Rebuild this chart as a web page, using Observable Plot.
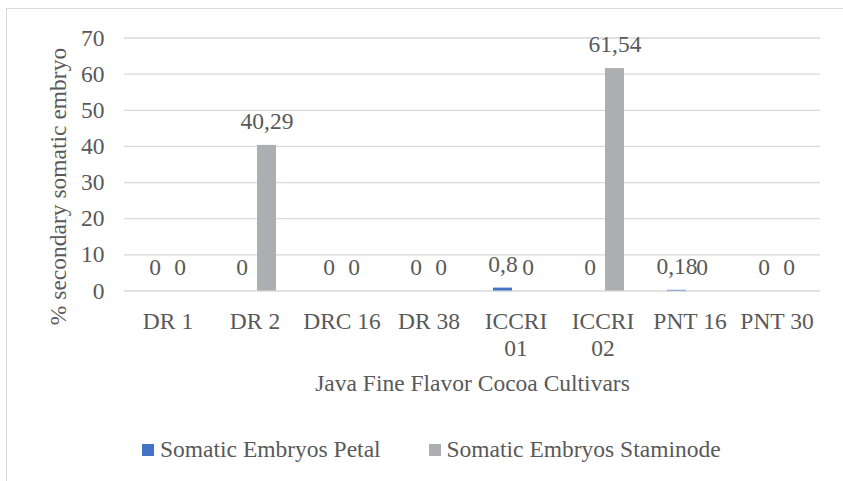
<!DOCTYPE html>
<html>
<head>
<meta charset="utf-8">
<script src="https://cdn.jsdelivr.net/npm/d3@7"></script>
<script src="https://cdn.jsdelivr.net/npm/@observablehq/plot@0.6"></script>
<style>
  body { margin: 0; background: #fff; }
  #wrap { position: relative; width: 843px; height: 481px; overflow: hidden;
          font-family: "Liberation Serif", "DejaVu Serif", serif; color: #595959; }
  #frame { position: absolute; left: 6px; top: 8px; width: 900px; height: 500px;
           border-left: 1px solid #d9d9d9; border-top: 1px solid #d9d9d9; }
  #chart { position: absolute; left: 0; top: 0; }
  #legend { position: absolute; left: 0; top: 435px; width: 843px; height: 28px; font-size: 23.5px; line-height: 28px; }
  .item { position: absolute; top: 0; display: flex; align-items: center; height: 28px; white-space: nowrap; }
  .sw { width: 12px; height: 12px; margin-right: 6px; margin-top: 1px; }
</style>
</head>
<body>
<div id="wrap">
  <div id="frame"></div>
  <div id="chart"></div>
  <div id="legend"></div>
</div>
<script>
// ---- data ----
const categories = ["DR 1", "DR 2", "DRC 16", "DR 38", "ICCRI 01", "ICCRI 02", "PNT 16", "PNT 30"];
const tickLabels = ["DR 1", "DR 2", "DRC 16", "DR 38", "ICCRI\n01", "ICCRI\n02", "PNT 16", "PNT 30"];
const seriesNames = ["Somatic Embryos Petal", "Somatic Embryos Staminode"];
const petal = [0, 0, 0, 0, 0.8, 0, 0.18, 0];
const staminode = [0, 40.29, 0, 0, 0, 61.54, 0, 0];
const colors = ["#4472c4", "#adaeb1"];
const yTicks = [0, 10, 20, 30, 40, 50, 60, 70];
const xTitle = "Java Fine Flavor Cocoa Cultivars";
const yTitle = "% secondary somatic embryo";

const rows = categories.flatMap((c, i) => [
  {cat: c, series: seriesNames[0], value: petal[i]},
  {cat: c, series: seriesNames[1], value: staminode[i]}
]);
const fmt = v => String(v).replace(".", ",");
const fontFamily = "'Liberation Serif', 'DejaVu Serif', serif";

const chart = Plot.plot({
  width: 843,
  height: 430,
  marginLeft: 120,
  marginRight: 20,
  marginTop: 37.5,
  marginBottom: 139.5,
  facet: {marginTop: 0, marginRight: 0, marginBottom: 0, marginLeft: 0},
  style: {fontFamily, fontSize: "23.5px", color: "#595959", background: "transparent", overflow: "visible"},
  fx: {domain: categories, padding: 0, label: null},
  x: {domain: seriesNames, paddingInner: 0.23, paddingOuter: 0.845, axis: null},
  y: {domain: [0, 70], label: null},
  color: {domain: seriesNames, range: colors},
  marks: [
    Plot.ruleY(yTicks, {stroke: "#d9d9d9", strokeWidth: 1.3}),
    Plot.barY(rows, {fx: "cat", x: "series", y: "value", fill: "series"}),
    Plot.text(rows, {fx: "cat", x: "series", y: "value", text: d => fmt(d.value), dy: -24, lineAnchor: "middle", fill: "#595959"}),
    Plot.axisY({ticks: yTicks, tickSize: 0, tickPadding: 20, label: null}),
    Plot.axisFx({anchor: "bottom", tickSize: 0, tickPadding: 19, lineHeight: 1.15, label: null,
                 tickFormat: d => tickLabels[categories.indexOf(d)]}),
    Plot.text([xTitle], {frameAnchor: "bottom", dy: 92.5, lineAnchor: "middle", textAnchor: "middle", facet: "super"}),
    Plot.text([yTitle], {frameAnchor: "left", rotate: -90, dx: -66, dy: 22, lineAnchor: "middle", textAnchor: "middle", facet: "super"})
  ]
});
document.getElementById("chart").appendChild(chart);

// legend
const legend = document.getElementById("legend");
const lefts = [142, 428.5];
seriesNames.forEach((s, i) => {
  const it = document.createElement("div");
  it.className = "item";
  it.style.left = lefts[i] + "px";
  const sw = document.createElement("span");
  sw.className = "sw";
  sw.style.background = colors[i];
  const tx = document.createElement("span");
  tx.textContent = s;
  it.appendChild(sw); it.appendChild(tx);
  legend.appendChild(it);
});
</script>
</body>
</html>
